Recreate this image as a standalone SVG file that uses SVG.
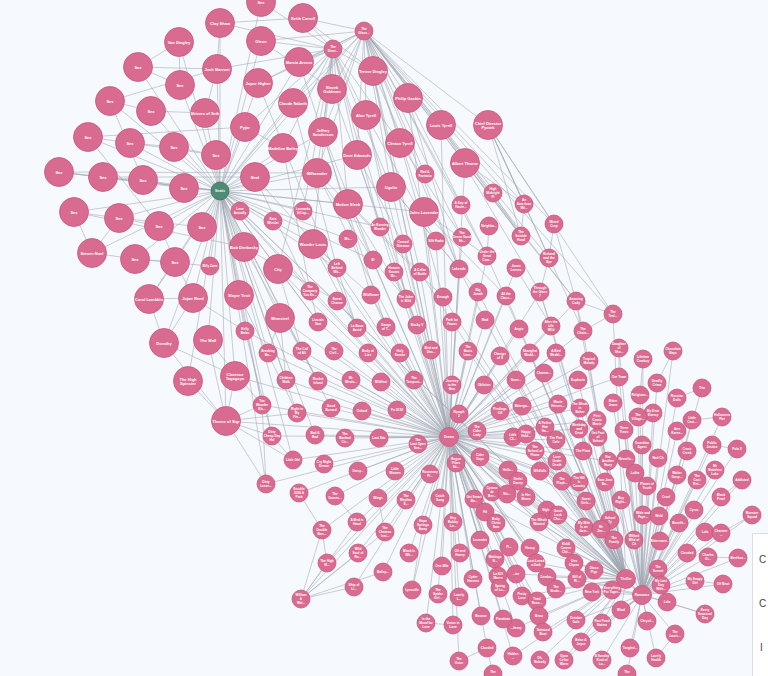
<svg xmlns="http://www.w3.org/2000/svg" width="768" height="676" viewBox="0 0 768 676">
<style>
.L circle,.S circle{fill:#d96b90;stroke:#c7577e;stroke-width:0.8}
.G circle{fill:#4e8b74;stroke:#3e735f;stroke-width:0.8}
text{font-family:"Liberation Sans",Arial,sans-serif;font-weight:bold;fill:#fff;text-anchor:middle;dominant-baseline:central}
.L text{font-size:4px}
.S text,.G text{font-size:3.2px}
#edges path{stroke:#9fa6b0;stroke-width:0.55;fill:none}
.panel text{fill:#444;font-size:10px;font-weight:normal;text-anchor:start}
</style>
<rect width="768" height="676" fill="#f6fafe"/>
<g id="edges">
<path d="M220 191L220 23"/><path d="M220 191L261 2"/><path d="M220 191L179 42"/><path d="M220 191L261 41"/><path d="M220 191L138 67"/><path d="M220 191L217 69"/><path d="M220 191L299 62"/><path d="M220 191L180 85"/><path d="M220 191L258 83"/><path d="M220 191L110 101"/><path d="M220 191L151 111"/><path d="M220 191L205 113"/><path d="M220 191L293 103"/><path d="M220 191L245 127"/><path d="M220 191L323 132"/><path d="M220 191L88 137"/><path d="M220 191L130 143"/><path d="M220 191L174 147"/><path d="M220 191L283 148"/><path d="M220 191L216 155"/><path d="M220 191L59 172"/><path d="M220 191L103 177"/><path d="M220 191L143 180"/><path d="M220 191L184 188"/><path d="M220 191L255 177"/><path d="M220 191L317 173"/><path d="M220 191L348 204"/><path d="M220 191L74 212"/><path d="M220 191L119 218"/><path d="M220 191L159 226"/><path d="M220 191L202 227"/><path d="M220 191L244 247"/><path d="M220 191L313 244"/><path d="M220 191L92 253"/><path d="M220 191L135 259"/><path d="M220 191L175 262"/><path d="M220 191L278 269"/><path d="M220 191L149 299"/><path d="M220 191L193 298"/><path d="M220 191L239 295"/><path d="M220 191L280 318"/><path d="M220 191L164 343"/><path d="M220 191L208 340"/><path d="M220 191L188 381"/><path d="M220 191L235 376"/><path d="M220 191L226 421"/><path d="M220 191L240 211"/><path d="M220 191L273 221"/><path d="M220 191L303 211"/><path d="M220 191L210 266"/><path d="M220 191L245 331"/><path d="M220 191L337 268"/><path d="M220 191L310 291"/><path d="M220 191L262 405"/><path d="M220 191L268 353"/><path d="M220 191L297 413"/><path d="M220 191L272 436"/><path d="M220 191L293 460"/><path d="M220 191L266 484"/><path d="M220 191L286 380"/><path d="M220 191L318 381"/><path d="M220 191L364 31"/><path d="M220 191L333 49"/><path d="M220 191L449 437"/><path d="M220 191L626 579"/><path d="M220 191L642 595"/><path d="M220 191L380 227"/><path d="M220 191L348 239"/><path d="M220 191L373 260"/><path d="M220 191L315 435"/><path d="M220 191L318 322"/><path d="M220 191L331 408"/><path d="M220 191L357 155"/><path d="M220 191L391 187"/><path d="M220 191L424 212"/>
<path d="M138 67L180 85"/><path d="M138 67L179 42"/><path d="M110 101L151 111"/><path d="M88 137L130 143"/><path d="M130 143L174 147"/><path d="M59 172L103 177"/><path d="M103 177L143 180"/><path d="M143 180L184 188"/><path d="M74 212L119 218"/><path d="M119 218L159 226"/><path d="M92 253L135 259"/><path d="M92 253L74 212"/><path d="M92 253L119 218"/><path d="M135 259L175 262"/><path d="M179 42L180 85"/><path d="M59 172L184 188"/><path d="M110 101L143 180"/><path d="M88 137L159 226"/><path d="M149 299L193 298"/><path d="M149 299L175 262"/><path d="M193 298L159 226"/><path d="M164 343L193 298"/><path d="M164 343L235 376"/><path d="M188 381L226 421"/><path d="M235 376L226 421"/><path d="M208 340L226 421"/><path d="M226 421L262 405"/><path d="M226 421L297 413"/><path d="M226 421L272 436"/><path d="M226 421L266 484"/><path d="M226 421L293 460"/><path d="M226 421L449 437"/><path d="M235 376L449 437"/><path d="M217 69L220 23"/><path d="M217 69L205 113"/><path d="M151 111L205 113"/><path d="M174 147L216 155"/><path d="M245 127L283 148"/><path d="M220 23L303 18"/>
<path d="M255 177L337 268"/><path d="M255 177L310 291"/><path d="M317 173L373 260"/><path d="M317 173L420 272"/><path d="M348 204L406 299"/><path d="M348 204L443 297"/><path d="M391 187L459 269"/><path d="M391 187L478 292"/><path d="M424 212L487 256"/><path d="M424 212L506 296"/><path d="M313 244L371 295"/><path d="M313 244L357 328"/><path d="M278 269L318 322"/><path d="M278 269L302 351"/><path d="M280 318L268 353"/><path d="M280 318L286 380"/><path d="M244 247L337 301"/><path d="M244 247L318 381"/><path d="M239 295L262 405"/><path d="M239 295L297 413"/><path d="M208 340L262 405"/><path d="M245 331L272 436"/><path d="M164 343L226 421"/><path d="M193 298L245 331"/><path d="M149 299L164 343"/><path d="M59 172L317 173"/><path d="M74 212L244 247"/><path d="M103 177L255 177"/><path d="M88 137L245 127"/><path d="M110 101L217 69"/><path d="M138 67L217 69"/><path d="M130 143L216 155"/><path d="M119 218L202 227"/><path d="M135 259L210 266"/><path d="M303 18L373 71"/><path d="M261 41L332 89"/><path d="M373 260L406 299"/><path d="M394 272L417 325"/><path d="M420 272L452 322"/><path d="M459 269L485 320"/><path d="M487 256L519 329"/><path d="M516 268L551 326"/><path d="M337 268L357 328"/><path d="M310 291L318 322"/><path d="M371 295L386 327"/><path d="M262 405L266 484"/><path d="M272 436L293 460"/><path d="M299 493L322 530"/><path d="M335 496L357 522"/><path d="M378 498L385 532"/><path d="M449 437L391 187"/><path d="M449 437L348 204"/><path d="M449 437L424 212"/><path d="M449 437L465 163"/><path d="M449 437L441 125"/><path d="M449 437L373 71"/><path d="M449 437L408 98"/><path d="M449 437L317 173"/><path d="M449 437L366 115"/>
<path d="M364 31L303 18"/><path d="M364 31L261 41"/><path d="M364 31L299 62"/><path d="M364 31L373 71"/><path d="M364 31L332 89"/><path d="M364 31L408 98"/><path d="M364 31L366 115"/><path d="M364 31L441 125"/><path d="M364 31L488 125"/><path d="M364 31L400 143"/><path d="M364 31L357 155"/><path d="M364 31L465 163"/><path d="M364 31L317 173"/><path d="M364 31L391 187"/><path d="M364 31L424 212"/><path d="M364 31L333 49"/><path d="M364 31L258 83"/><path d="M364 31L293 103"/><path d="M364 31L323 132"/><path d="M364 31L524 204"/><path d="M364 31L554 224"/><path d="M364 31L549 258"/><path d="M364 31L521 236"/><path d="M364 31L576 301"/><path d="M364 31L613 314"/><path d="M364 31L459 269"/><path d="M364 31L487 256"/><path d="M364 31L462 237"/><path d="M364 31L449 437"/><path d="M364 31L493 193"/><path d="M364 31L425 174"/><path d="M364 31L461 205"/>
<path d="M333 49L261 41"/><path d="M333 49L299 62"/><path d="M333 49L258 83"/><path d="M333 49L293 103"/><path d="M333 49L332 89"/><path d="M333 49L323 132"/><path d="M333 49L283 148"/><path d="M333 49L245 127"/><path d="M333 49L217 69"/><path d="M333 49L220 23"/><path d="M333 49L261 2"/><path d="M333 49L303 18"/><path d="M333 49L366 115"/><path d="M333 49L357 155"/><path d="M333 49L317 173"/><path d="M333 49L348 204"/><path d="M333 49L313 244"/><path d="M333 49L278 269"/><path d="M333 49L449 437"/><path d="M333 49L391 187"/><path d="M333 49L400 143"/><path d="M333 49L373 71"/><path d="M333 49L303 211"/><path d="M333 49L380 227"/>
<path d="M488 125L524 204"/><path d="M488 125L554 224"/><path d="M488 125L549 258"/><path d="M488 125L613 314"/><path d="M488 125L583 331"/><path d="M488 125L521 236"/><path d="M465 163L521 236"/><path d="M465 163L524 204"/><path d="M465 163L576 301"/><path d="M441 125L521 236"/><path d="M441 125L540 292"/><path d="M408 98L487 256"/><path d="M408 98L459 269"/><path d="M373 71L459 269"/><path d="M373 71L420 272"/><path d="M400 143L462 237"/><path d="M400 143L443 297"/><path d="M366 115L436 241"/><path d="M366 115L406 299"/><path d="M357 155L403 244"/><path d="M357 155L394 272"/><path d="M323 132L373 260"/><path d="M323 132L371 295"/><path d="M293 103L337 268"/><path d="M283 148L310 291"/><path d="M332 89L417 325"/><path d="M299 62L386 327"/><path d="M258 83L357 328"/><path d="M554 224L576 301"/><path d="M554 224L549 258"/><path d="M576 301L583 331"/><path d="M576 301L613 314"/><path d="M613 314L583 331"/><path d="M540 292L551 326"/><path d="M549 258L540 292"/><path d="M524 204L521 236"/><path d="M493 193L521 236"/><path d="M489 226L487 256"/>
<path d="M449 437L373 260"/><path d="M449 437L337 268"/><path d="M449 437L394 272"/><path d="M449 437L420 272"/><path d="M449 437L459 269"/><path d="M449 437L310 291"/><path d="M449 437L371 295"/><path d="M449 437L406 299"/><path d="M449 437L443 297"/><path d="M449 437L478 292"/><path d="M449 437L506 296"/><path d="M449 437L337 301"/><path d="M449 437L318 322"/><path d="M449 437L357 328"/><path d="M449 437L386 327"/><path d="M449 437L417 325"/><path d="M449 437L452 322"/><path d="M449 437L485 320"/><path d="M449 437L516 268"/><path d="M449 437L540 292"/><path d="M449 437L576 301"/><path d="M449 437L551 326"/><path d="M449 437L583 331"/><path d="M449 437L519 329"/><path d="M449 437L262 405"/><path d="M449 437L268 353"/><path d="M449 437L302 351"/><path d="M449 437L334 351"/><path d="M449 437L368 353"/><path d="M449 437L400 353"/><path d="M449 437L431 350"/><path d="M449 437L468 351"/><path d="M449 437L500 356"/><path d="M449 437L530 353"/><path d="M449 437L556 353"/><path d="M449 437L589 361"/><path d="M449 437L286 380"/><path d="M449 437L318 381"/><path d="M449 437L351 380"/><path d="M449 437L381 382"/><path d="M449 437L414 380"/><path d="M449 437L452 385"/><path d="M449 437L484 385"/><path d="M449 437L516 380"/><path d="M449 437L544 373"/><path d="M449 437L578 380"/><path d="M449 437L619 377"/><path d="M449 437L297 413"/><path d="M449 437L331 408"/><path d="M449 437L362 411"/><path d="M449 437L397 410"/><path d="M449 437L459 414"/><path d="M449 437L500 411"/><path d="M449 437L522 406"/><path d="M449 437L558 404"/><path d="M449 437L580 408"/><path d="M449 437L597 420"/><path d="M449 437L272 436"/><path d="M449 437L315 435"/><path d="M449 437L345 438"/><path d="M449 437L379 438"/><path d="M449 437L418 444"/><path d="M449 437L477 431"/><path d="M449 437L545 427"/><path d="M449 437L526 434"/><path d="M449 437L579 429"/><path d="M449 437L513 437"/><path d="M449 437L556 440"/><path d="M449 437L535 451"/><path d="M449 437L583 451"/><path d="M449 437L480 457"/><path d="M449 437L456 463"/><path d="M449 437L557 461"/><path d="M449 437L608 461"/><path d="M449 437L293 460"/><path d="M449 437L324 464"/><path d="M449 437L358 471"/><path d="M449 437L395 471"/><path d="M449 437L430 474"/><path d="M449 437L508 470"/><path d="M449 437L540 471"/><path d="M449 437L266 484"/><path d="M449 437L518 481"/><path d="M449 437L562 481"/><path d="M449 437L579 482"/><path d="M449 437L299 493"/><path d="M449 437L335 496"/><path d="M449 437L378 498"/><path d="M449 437L406 500"/><path d="M449 437L440 498"/><path d="M449 437L474 499"/><path d="M449 437L492 492"/><path d="M449 437L507 494"/><path d="M449 437L526 497"/><path d="M449 437L586 501"/><path d="M449 437L547 510"/><path d="M449 437L558 515"/><path d="M449 437L539 522"/><path d="M449 437L584 527"/><path d="M449 437L509 547"/><path d="M449 437L530 548"/><path d="M449 437L566 548"/><path d="M449 437L536 563"/><path d="M449 437L516 574"/><path d="M449 437L547 577"/><path d="M449 437L556 589"/><path d="M449 437L522 596"/><path d="M449 437L537 601"/><path d="M449 437L539 616"/><path d="M449 437L516 628"/><path d="M449 437L543 632"/><path d="M449 437L513 656"/><path d="M449 437L322 530"/><path d="M449 437L357 522"/><path d="M449 437L385 532"/><path d="M449 437L423 525"/><path d="M449 437L453 522"/><path d="M449 437L485 512"/><path d="M449 437L496 523"/><path d="M449 437L327 563"/><path d="M449 437L358 553"/><path d="M449 437L383 572"/><path d="M449 437L409 553"/><path d="M449 437L442 566"/><path d="M449 437L460 553"/><path d="M449 437L480 540"/><path d="M449 437L495 559"/><path d="M449 437L473 579"/><path d="M449 437L498 576"/><path d="M449 437L500 588"/><path d="M449 437L354 587"/><path d="M449 437L412 590"/><path d="M449 437L438 594"/><path d="M449 437L459 597"/><path d="M449 437L301 599"/><path d="M449 437L481 616"/><path d="M449 437L503 619"/><path d="M449 437L426 623"/><path d="M449 437L453 625"/><path d="M449 437L487 648"/><path d="M449 437L459 661"/><path d="M449 437L626 579"/><path d="M449 437L642 595"/><path d="M449 437L280 318"/><path d="M449 437L278 269"/><path d="M449 437L313 244"/><path d="M449 437L245 331"/><path d="M449 437L436 241"/><path d="M449 437L403 244"/><path d="M449 437L462 237"/><path d="M449 437L487 256"/>
<path d="M626 579L547 510"/><path d="M626 579L558 515"/><path d="M626 579L539 522"/><path d="M626 579L584 527"/><path d="M626 579L601 529"/><path d="M626 579L610 520"/><path d="M626 579L530 548"/><path d="M626 579L566 548"/><path d="M626 579L536 563"/><path d="M626 579L574 563"/><path d="M626 579L594 570"/><path d="M626 579L516 574"/><path d="M626 579L547 577"/><path d="M626 579L577 579"/><path d="M626 579L556 589"/><path d="M626 579L522 596"/><path d="M626 579L537 601"/><path d="M626 579L539 616"/><path d="M626 579L516 628"/><path d="M626 579L543 632"/><path d="M626 579L513 656"/><path d="M626 579L540 660"/><path d="M626 579L564 660"/><path d="M626 579L581 642"/><path d="M626 579L576 620"/><path d="M626 579L602 623"/><path d="M626 579L621 610"/><path d="M626 579L551 326"/><path d="M626 579L583 331"/><path d="M626 579L519 329"/><path d="M626 579L540 292"/><path d="M626 579L576 301"/><path d="M626 579L613 314"/><path d="M626 579L530 353"/><path d="M626 579L556 353"/><path d="M626 579L589 361"/><path d="M626 579L544 373"/><path d="M626 579L578 380"/><path d="M626 579L558 404"/><path d="M626 579L580 408"/><path d="M626 579L545 427"/><path d="M626 579L526 434"/><path d="M626 579L579 429"/><path d="M626 579L556 440"/><path d="M626 579L535 451"/><path d="M626 579L583 451"/><path d="M626 579L557 461"/><path d="M626 579L608 461"/><path d="M626 579L540 471"/><path d="M626 579L518 481"/><path d="M626 579L562 481"/><path d="M626 579L579 482"/><path d="M626 579L605 482"/><path d="M626 579L526 497"/><path d="M626 579L586 501"/><path d="M626 579L452 322"/><path d="M626 579L485 320"/><path d="M626 579L506 296"/><path d="M626 579L478 292"/><path d="M626 579L443 297"/><path d="M626 579L500 356"/><path d="M626 579L468 351"/><path d="M626 579L484 385"/><path d="M626 579L516 380"/><path d="M626 579L500 411"/><path d="M626 579L522 406"/><path d="M626 579L480 457"/><path d="M626 579L474 499"/><path d="M626 579L492 492"/><path d="M626 579L507 494"/><path d="M626 579L642 595"/>
<path d="M642 595L635 473"/><path d="M642 595L677 475"/><path d="M642 595L715 470"/><path d="M642 595L697 480"/><path d="M642 595L742 480"/><path d="M642 595L647 486"/><path d="M642 595L621 500"/><path d="M642 595L666 497"/><path d="M642 595L721 497"/><path d="M642 595L643 515"/><path d="M642 595L659 516"/><path d="M642 595L679 523"/><path d="M642 595L694 510"/><path d="M642 595L752 515"/><path d="M642 595L705 532"/><path d="M642 595L721 533"/><path d="M642 595L614 540"/><path d="M642 595L634 540"/><path d="M642 595L660 541"/><path d="M642 595L687 553"/><path d="M642 595L708 557"/><path d="M642 595L738 558"/><path d="M642 595L577 579"/><path d="M642 595L658 569"/><path d="M642 595L661 585"/><path d="M642 595L695 581"/><path d="M642 595L723 584"/><path d="M642 595L592 592"/><path d="M642 595L612 590"/><path d="M642 595L667 602"/><path d="M642 595L621 610"/><path d="M642 595L705 614"/><path d="M642 595L576 620"/><path d="M642 595L602 623"/><path d="M642 595L647 621"/><path d="M642 595L675 634"/><path d="M642 595L581 642"/><path d="M642 595L630 648"/><path d="M642 595L602 660"/><path d="M642 595L656 658"/><path d="M642 595L564 660"/><path d="M642 595L627 674"/><path d="M642 595L638 417"/><path d="M642 595L653 413"/><path d="M642 595L692 420"/><path d="M642 595L722 417"/><path d="M642 595L712 445"/><path d="M642 595L737 449"/><path d="M642 595L687 451"/><path d="M642 595L658 458"/><path d="M642 595L626 459"/><path d="M642 595L642 445"/><path d="M642 595L624 430"/><path d="M642 595L677 431"/><path d="M642 595L613 403"/><path d="M642 595L598 437"/><path d="M642 595L640 395"/><path d="M642 595L657 383"/><path d="M642 595L702 388"/><path d="M642 595L677 398"/><path d="M642 595L643 359"/><path d="M642 595L673 351"/><path d="M642 595L619 348"/><path d="M642 595L619 377"/><path d="M642 595L597 420"/>
<path d="M702 388L677 398"/><path d="M722 417L692 420"/><path d="M737 449L712 445"/><path d="M742 480L721 497"/><path d="M752 515L721 533"/><path d="M738 558L708 557"/><path d="M723 584L695 581"/><path d="M705 614L667 602"/><path d="M675 634L656 658"/><path d="M673 351L657 383"/><path d="M643 359L640 395"/><path d="M619 348L619 377"/><path d="M677 431L687 451"/><path d="M715 470L697 480"/><path d="M653 413L638 417"/><path d="M301 599L327 563"/><path d="M301 599L322 530"/><path d="M301 599L357 522"/><path d="M301 599L358 553"/><path d="M301 599L354 587"/><path d="M301 599L385 532"/><path d="M301 599L383 572"/><path d="M327 563L322 530"/><path d="M423 525L412 590"/><path d="M487 648L459 661"/><path d="M426 623L453 625"/><path d="M493 674L487 648"/>
</g>
<g id="nodes">
<g id="n-l1" class="L"><circle cx="220" cy="23" r="14.5"/><text x="220" y="23">Clay Shaw</text></g>
<g id="n-l2" class="L"><circle cx="261" cy="2" r="14.5"/><text x="261" y="2">Sex</text></g>
<g id="n-l3" class="L"><circle cx="303" cy="18" r="14.5"/><text x="303" y="18">Keith Carroll</text></g>
<g id="n-l4" class="L"><circle cx="179" cy="42" r="14.5"/><text x="179" y="42">Van Dingley</text></g>
<g id="n-l5" class="L"><circle cx="261" cy="41" r="14.5"/><text x="261" y="41">Glenn</text></g>
<g id="n-l6" class="L"><circle cx="138" cy="67" r="14.5"/><text x="138" y="67">Sex</text></g>
<g id="n-l7" class="L"><circle cx="217" cy="69" r="14.5"/><text x="217" y="69">Josh Marroni</text></g>
<g id="n-l8" class="L"><circle cx="299" cy="62" r="14.5"/><text x="299" y="62">Marcia Arrone</text></g>
<g id="n-l9" class="L"><circle cx="373" cy="71" r="14.5"/><text x="373" y="71">Trevor Dingley</text></g>
<g id="n-l10" class="L"><circle cx="180" cy="85" r="14.5"/><text x="180" y="85">Sex</text></g>
<g id="n-l11" class="L"><circle cx="258" cy="83" r="14.5"/><text x="258" y="83">Jayne Higher</text></g>
<g id="n-l12" class="L"><circle cx="332" cy="89" r="14.5"/><text x="332" y="89"><tspan x="332" dy="-2.2">Slavek</tspan><tspan x="332" dy="4.4">Goldman</tspan></text></g>
<g id="n-l13" class="L"><circle cx="110" cy="101" r="14.5"/><text x="110" y="101">Sex</text></g>
<g id="n-l14" class="L"><circle cx="151" cy="111" r="14.5"/><text x="151" y="111">Sex</text></g>
<g id="n-l15" class="L"><circle cx="205" cy="113" r="14.5"/><text x="205" y="113">Shivers of Seth</text></g>
<g id="n-l16" class="L"><circle cx="293" cy="103" r="14.5"/><text x="293" y="103">Claude Nabeth</text></g>
<g id="n-l17" class="L"><circle cx="366" cy="115" r="14.5"/><text x="366" y="115">Alan Tyrell</text></g>
<g id="n-l18" class="L"><circle cx="408" cy="98" r="14.5"/><text x="408" y="98">Philip Gaskin</text></g>
<g id="n-l19" class="L"><circle cx="245" cy="127" r="14.5"/><text x="245" y="127">Pyjar</text></g>
<g id="n-l20" class="L"><circle cx="323" cy="132" r="14.5"/><text x="323" y="132"><tspan x="323" dy="-2.2">Jeffrey</tspan><tspan x="323" dy="4.4">Sanderson</tspan></text></g>
<g id="n-l21" class="L"><circle cx="441" cy="125" r="14.5"/><text x="441" y="125">Louis Tyrell</text></g>
<g id="n-l22" class="L"><circle cx="488" cy="125" r="14.5"/><text x="488" y="125"><tspan x="488" dy="-2.2">Chief Director</tspan><tspan x="488" dy="4.4">Pyotek</tspan></text></g>
<g id="n-l23" class="L"><circle cx="88" cy="137" r="14.5"/><text x="88" y="137">Sex</text></g>
<g id="n-l24" class="L"><circle cx="130" cy="143" r="14.5"/><text x="130" y="143">Sex</text></g>
<g id="n-l25" class="L"><circle cx="174" cy="147" r="14.5"/><text x="174" y="147">Sex</text></g>
<g id="n-l26" class="L"><circle cx="283" cy="148" r="14.5"/><text x="283" y="148">Madeline Bailey</text></g>
<g id="n-l27" class="L"><circle cx="400" cy="143" r="14.5"/><text x="400" y="143">Clinton Tyrell</text></g>
<g id="n-l28" class="L"><circle cx="216" cy="155" r="14.5"/><text x="216" y="155">Sex</text></g>
<g id="n-l29" class="L"><circle cx="357" cy="155" r="14.5"/><text x="357" y="155">Dave Edwards</text></g>
<g id="n-l30" class="L"><circle cx="465" cy="163" r="14.5"/><text x="465" y="163">Albert Thorne</text></g>
<g id="n-l31" class="L"><circle cx="59" cy="172" r="14.5"/><text x="59" y="172">Sex</text></g>
<g id="n-l32" class="L"><circle cx="103" cy="177" r="14.5"/><text x="103" y="177">Sex</text></g>
<g id="n-l33" class="L"><circle cx="143" cy="180" r="14.5"/><text x="143" y="180">Sex</text></g>
<g id="n-l34" class="L"><circle cx="184" cy="188" r="14.5"/><text x="184" y="188">Sex</text></g>
<g id="n-l35" class="L"><circle cx="255" cy="177" r="14.5"/><text x="255" y="177">Neal</text></g>
<g id="n-l36" class="L"><circle cx="317" cy="173" r="14.5"/><text x="317" y="173">Millwander</text></g>
<g id="n-l37" class="L"><circle cx="391" cy="187" r="14.5"/><text x="391" y="187">Ugolin</text></g>
<g id="n-l38" class="L"><circle cx="348" cy="204" r="14.5"/><text x="348" y="204">Motion Sleek</text></g>
<g id="n-l39" class="L"><circle cx="424" cy="212" r="14.5"/><text x="424" y="212">Jules Lavender</text></g>
<g id="n-l40" class="L"><circle cx="74" cy="212" r="14.5"/><text x="74" y="212">Sex</text></g>
<g id="n-l41" class="L"><circle cx="119" cy="218" r="14.5"/><text x="119" y="218">Sex</text></g>
<g id="n-l42" class="L"><circle cx="159" cy="226" r="14.5"/><text x="159" y="226">Sex</text></g>
<g id="n-l43" class="L"><circle cx="202" cy="227" r="14.5"/><text x="202" y="227">Sex</text></g>
<g id="n-l44" class="L"><circle cx="244" cy="247" r="14.5"/><text x="244" y="247">Bob Dimbasky</text></g>
<g id="n-l45" class="L"><circle cx="313" cy="244" r="14.5"/><text x="313" y="244">Wander Louis</text></g>
<g id="n-l46" class="L"><circle cx="92" cy="253" r="14.5"/><text x="92" y="253">Steven Noel</text></g>
<g id="n-l47" class="L"><circle cx="135" cy="259" r="14.5"/><text x="135" y="259">Sex</text></g>
<g id="n-l48" class="L"><circle cx="175" cy="262" r="14.5"/><text x="175" y="262">Sex</text></g>
<g id="n-l49" class="L"><circle cx="278" cy="269" r="14.5"/><text x="278" y="269">City</text></g>
<g id="n-l50" class="L"><circle cx="149" cy="299" r="14.5"/><text x="149" y="299">Carol Lambkin</text></g>
<g id="n-l51" class="L"><circle cx="193" cy="298" r="14.5"/><text x="193" y="298">Jojan Reed</text></g>
<g id="n-l52" class="L"><circle cx="239" cy="295" r="14.5"/><text x="239" y="295">Slayer Tesit</text></g>
<g id="n-l53" class="L"><circle cx="280" cy="318" r="14.5"/><text x="280" y="318">Minestrel</text></g>
<g id="n-l54" class="L"><circle cx="164" cy="343" r="14.5"/><text x="164" y="343">Dorothy</text></g>
<g id="n-l55" class="L"><circle cx="208" cy="340" r="14.5"/><text x="208" y="340">The Wall</text></g>
<g id="n-l56" class="L"><circle cx="188" cy="381" r="14.5"/><text x="188" y="381"><tspan x="188" dy="-2.2">The High</tspan><tspan x="188" dy="4.4">Spinster</tspan></text></g>
<g id="n-l57" class="L"><circle cx="235" cy="376" r="14.5"/><text x="235" y="376"><tspan x="235" dy="-2.2">Clarence</tspan><tspan x="235" dy="4.4">Tagagoyn</tspan></text></g>
<g id="n-l58" class="L"><circle cx="226" cy="421" r="14.5"/><text x="226" y="421">Thorns of Sigr</text></g>
<g id="n-hub-g" class="G"><circle cx="220" cy="191" r="9"/><text x="220" y="191">Stratis</text></g>
<g id="n-hub-d" class="S"><circle cx="449" cy="437" r="9.5"/><text x="449" y="437">Drama</text></g>
<g id="n-hub-p" class="S"><circle cx="626" cy="579" r="9.5"/><text x="626" y="579">Thriller</text></g>
<g id="n-hub-r" class="S"><circle cx="642" cy="595" r="9.5"/><text x="642" y="595">Romance</text></g>
<g id="n1" class="S"><circle cx="364" cy="31" r="9"/><text x="364" y="31"><tspan x="364" dy="-1.8">The</tspan><tspan x="364" dy="3.6">Glass...</tspan></text></g>
<g id="n2" class="S"><circle cx="333" cy="49" r="9"/><text x="333" y="49"><tspan x="333" dy="-1.8">The</tspan><tspan x="333" dy="3.6">Diver...</tspan></text></g>
<g id="n3" class="S"><circle cx="425" cy="174" r="9"/><text x="425" y="174"><tspan x="425" dy="-1.8">Red &amp;</tspan><tspan x="425" dy="3.6">Fantasia</tspan></text></g>
<g id="n4" class="S"><circle cx="493" cy="193" r="9"/><text x="493" y="193"><tspan x="493" dy="-3.6">High</tspan><tspan x="493" dy="3.6">Midnight</tspan><tspan x="493" dy="3.6">Pi</tspan></text></g>
<g id="n5" class="S"><circle cx="240" cy="211" r="9"/><text x="240" y="211"><tspan x="240" dy="-1.8">Love</tspan><tspan x="240" dy="3.6">Actually</tspan></text></g>
<g id="n6" class="S"><circle cx="273" cy="221" r="9"/><text x="273" y="221"><tspan x="273" dy="-1.8">Kate</tspan><tspan x="273" dy="3.6">Winslet</tspan></text></g>
<g id="n7" class="S"><circle cx="303" cy="211" r="9"/><text x="303" y="211"><tspan x="303" dy="-1.8">Leonardo</tspan><tspan x="303" dy="3.6">DiCap...</tspan></text></g>
<g id="n8" class="S"><circle cx="461" cy="205" r="9"/><text x="461" y="205"><tspan x="461" dy="-1.8">A Day of</tspan><tspan x="461" dy="3.6">Haute...</tspan></text></g>
<g id="n9" class="S"><circle cx="489" cy="226" r="9"/><text x="489" y="226">Neighbo...</text></g>
<g id="n10" class="S"><circle cx="380" cy="227" r="9"/><text x="380" y="227"><tspan x="380" dy="-1.8">An Evening</tspan><tspan x="380" dy="3.6">Wonder</tspan></text></g>
<g id="n11" class="S"><circle cx="348" cy="239" r="9"/><text x="348" y="239">Wo...</text></g>
<g id="n12" class="S"><circle cx="462" cy="237" r="9"/><text x="462" y="237"><tspan x="462" dy="-3.6">The</tspan><tspan x="462" dy="3.6">Green Good</tspan><tspan x="462" dy="3.6">Sh...</tspan></text></g>
<g id="n13" class="S"><circle cx="403" cy="244" r="9"/><text x="403" y="244"><tspan x="403" dy="-1.8">Conrad</tspan><tspan x="403" dy="3.6">Dimmon</tspan></text></g>
<g id="n14" class="S"><circle cx="436" cy="241" r="9"/><text x="436" y="241">Silk Radio</text></g>
<g id="n15" class="S"><circle cx="487" cy="256" r="9"/><text x="487" y="256"><tspan x="487" dy="-3.6">Under the</tspan><tspan x="487" dy="3.6">Great</tspan><tspan x="487" dy="3.6">Com...</tspan></text></g>
<g id="n16" class="S"><circle cx="373" cy="260" r="9"/><text x="373" y="260">El</text></g>
<g id="n17" class="S"><circle cx="337" cy="268" r="9"/><text x="337" y="268"><tspan x="337" dy="-3.6">Left</tspan><tspan x="337" dy="3.6">Behind</tspan><tspan x="337" dy="3.6">Wit...</tspan></text></g>
<g id="n18" class="S"><circle cx="394" cy="272" r="9"/><text x="394" y="272"><tspan x="394" dy="-3.6">Heaven</tspan><tspan x="394" dy="3.6">Knows</tspan><tspan x="394" dy="3.6">Mr...</tspan></text></g>
<g id="n19" class="S"><circle cx="420" cy="272" r="9"/><text x="420" y="272"><tspan x="420" dy="-1.8">A Cellar</tspan><tspan x="420" dy="3.6">of Bottle</tspan></text></g>
<g id="n20" class="S"><circle cx="459" cy="269" r="9"/><text x="459" y="269">Lakeside</text></g>
<g id="n21" class="S"><circle cx="210" cy="266" r="9"/><text x="210" y="266">Billy Zane</text></g>
<g id="n22" class="S"><circle cx="310" cy="291" r="9"/><text x="310" y="291"><tspan x="310" dy="-3.6">The</tspan><tspan x="310" dy="3.6">Company</tspan><tspan x="310" dy="3.6">You Ke...</tspan></text></g>
<g id="n23" class="S"><circle cx="371" cy="295" r="9"/><text x="371" y="295">Wildflower</text></g>
<g id="n24" class="S"><circle cx="406" cy="299" r="9"/><text x="406" y="299"><tspan x="406" dy="-1.8">The Joker</tspan><tspan x="406" dy="3.6">is Wild</tspan></text></g>
<g id="n25" class="S"><circle cx="443" cy="297" r="9"/><text x="443" y="297">Enough</text></g>
<g id="n26" class="S"><circle cx="478" cy="292" r="9"/><text x="478" y="292"><tspan x="478" dy="-1.8">Big</tspan><tspan x="478" dy="3.6">Jonah</tspan></text></g>
<g id="n27" class="S"><circle cx="506" cy="296" r="9"/><text x="506" y="296"><tspan x="506" dy="-1.8">All the</tspan><tspan x="506" dy="3.6">Class...</tspan></text></g>
<g id="n28" class="S"><circle cx="337" cy="301" r="9"/><text x="337" y="301"><tspan x="337" dy="-1.8">Sweet</tspan><tspan x="337" dy="3.6">Chance</tspan></text></g>
<g id="n29" class="S"><circle cx="318" cy="322" r="9"/><text x="318" y="322"><tspan x="318" dy="-1.8">Lincoln</tspan><tspan x="318" dy="3.6">Stat</tspan></text></g>
<g id="n30" class="S"><circle cx="357" cy="328" r="9"/><text x="357" y="328"><tspan x="357" dy="-1.8">La Boca</tspan><tspan x="357" dy="3.6">Avoid</tspan></text></g>
<g id="n31" class="S"><circle cx="386" cy="327" r="9"/><text x="386" y="327"><tspan x="386" dy="-1.8">Gauge</tspan><tspan x="386" dy="3.6">of T...</tspan></text></g>
<g id="n32" class="S"><circle cx="417" cy="325" r="9"/><text x="417" y="325">Rocky V</text></g>
<g id="n33" class="S"><circle cx="452" cy="322" r="9"/><text x="452" y="322"><tspan x="452" dy="-1.8">Park for</tspan><tspan x="452" dy="3.6">Pawns</tspan></text></g>
<g id="n34" class="S"><circle cx="485" cy="320" r="9"/><text x="485" y="320">Mad</text></g>
<g id="n35" class="S"><circle cx="245" cy="331" r="9"/><text x="245" y="331"><tspan x="245" dy="-1.8">Kelly</tspan><tspan x="245" dy="3.6">Bolas</tspan></text></g>
<g id="n36" class="S"><circle cx="524" cy="204" r="9"/><text x="524" y="204"><tspan x="524" dy="-3.6">An</tspan><tspan x="524" dy="3.6">American</tspan><tspan x="524" dy="3.6">Mil...</tspan></text></g>
<g id="n37" class="S"><circle cx="554" cy="224" r="9"/><text x="554" y="224"><tspan x="554" dy="-1.8">Mixed</tspan><tspan x="554" dy="3.6">Crop</tspan></text></g>
<g id="n38" class="S"><circle cx="521" cy="236" r="9"/><text x="521" y="236"><tspan x="521" dy="-3.6">The</tspan><tspan x="521" dy="3.6">Suicide</tspan><tspan x="521" dy="3.6">Hood</tspan></text></g>
<g id="n39" class="S"><circle cx="549" cy="258" r="9"/><text x="549" y="258"><tspan x="549" dy="-3.6">Richard</tspan><tspan x="549" dy="3.6">and the</tspan><tspan x="549" dy="3.6">Eye</tspan></text></g>
<g id="n40" class="S"><circle cx="516" cy="268" r="9"/><text x="516" y="268"><tspan x="516" dy="-1.8">Jason</tspan><tspan x="516" dy="3.6">Lenses</tspan></text></g>
<g id="n41" class="S"><circle cx="540" cy="292" r="9"/><text x="540" y="292"><tspan x="540" dy="-3.6">Through</tspan><tspan x="540" dy="3.6">the Glass</tspan><tspan x="540" dy="3.6">7</tspan></text></g>
<g id="n42" class="S"><circle cx="576" cy="301" r="9"/><text x="576" y="301"><tspan x="576" dy="-1.8">Amazing</tspan><tspan x="576" dy="3.6">Cody</tspan></text></g>
<g id="n43" class="S"><circle cx="613" cy="314" r="9"/><text x="613" y="314"><tspan x="613" dy="-1.8">The</tspan><tspan x="613" dy="3.6">Teal...</tspan></text></g>
<g id="n44" class="S"><circle cx="551" cy="326" r="9"/><text x="551" y="326"><tspan x="551" dy="-3.6">After the</tspan><tspan x="551" dy="3.6">Life</tspan><tspan x="551" dy="3.6">Wild</tspan></text></g>
<g id="n45" class="S"><circle cx="583" cy="331" r="9"/><text x="583" y="331"><tspan x="583" dy="-1.8">The</tspan><tspan x="583" dy="3.6">Chain...</tspan></text></g>
<g id="n46" class="S"><circle cx="519" cy="329" r="9"/><text x="519" y="329">Angie</text></g>
<g id="n47" class="S"><circle cx="262" cy="405" r="9"/><text x="262" y="405"><tspan x="262" dy="-3.6">Too</tspan><tspan x="262" dy="3.6">Wonder</tspan><tspan x="262" dy="3.6">Els...</tspan></text></g>
<g id="n48" class="S"><circle cx="268" cy="353" r="9"/><text x="268" y="353"><tspan x="268" dy="-1.8">Breaking</tspan><tspan x="268" dy="3.6">Ba...</tspan></text></g>
<g id="n49" class="S"><circle cx="302" cy="351" r="9"/><text x="302" y="351"><tspan x="302" dy="-1.8">The Call</tspan><tspan x="302" dy="3.6">of Ali</tspan></text></g>
<g id="n50" class="S"><circle cx="334" cy="351" r="9"/><text x="334" y="351"><tspan x="334" dy="-1.8">The</tspan><tspan x="334" dy="3.6">Civil...</tspan></text></g>
<g id="n51" class="S"><circle cx="368" cy="353" r="9"/><text x="368" y="353"><tspan x="368" dy="-1.8">Body of</tspan><tspan x="368" dy="3.6">Lies</tspan></text></g>
<g id="n52" class="S"><circle cx="400" cy="353" r="9"/><text x="400" y="353"><tspan x="400" dy="-1.8">Holy</tspan><tspan x="400" dy="3.6">Smoke</tspan></text></g>
<g id="n53" class="S"><circle cx="431" cy="350" r="9"/><text x="431" y="350"><tspan x="431" dy="-1.8">Bird and</tspan><tspan x="431" dy="3.6">Dim...</tspan></text></g>
<g id="n54" class="S"><circle cx="468" cy="351" r="9"/><text x="468" y="351"><tspan x="468" dy="-3.6">The</tspan><tspan x="468" dy="3.6">Basic</tspan><tspan x="468" dy="3.6">Lear...</tspan></text></g>
<g id="n55" class="S"><circle cx="500" cy="356" r="9"/><text x="500" y="356"><tspan x="500" dy="-1.8">Charger</tspan><tspan x="500" dy="3.6">of X</tspan></text></g>
<g id="n56" class="S"><circle cx="530" cy="353" r="9"/><text x="530" y="353"><tspan x="530" dy="-1.8">Shanghai</tspan><tspan x="530" dy="3.6">Wedd...</tspan></text></g>
<g id="n57" class="S"><circle cx="556" cy="353" r="9"/><text x="556" y="353"><tspan x="556" dy="-1.8">A Bird</tspan><tspan x="556" dy="3.6">Weddi...</tspan></text></g>
<g id="n58" class="S"><circle cx="589" cy="361" r="9"/><text x="589" y="361"><tspan x="589" dy="-1.8">Tropical</tspan><tspan x="589" dy="3.6">Malady</tspan></text></g>
<g id="n59" class="S"><circle cx="619" cy="348" r="9"/><text x="619" y="348"><tspan x="619" dy="-3.6">Daughter</tspan><tspan x="619" dy="3.6">of</tspan><tspan x="619" dy="3.6">Sho...</tspan></text></g>
<g id="n60" class="S"><circle cx="643" cy="359" r="9"/><text x="643" y="359"><tspan x="643" dy="-1.8">Lifetime</tspan><tspan x="643" dy="3.6">Cowboy</tspan></text></g>
<g id="n61" class="S"><circle cx="673" cy="351" r="9"/><text x="673" y="351"><tspan x="673" dy="-1.8">Chocolate</tspan><tspan x="673" dy="3.6">Bays</tspan></text></g>
<g id="n62" class="S"><circle cx="286" cy="380" r="9"/><text x="286" y="380"><tspan x="286" dy="-1.8">Children</tspan><tspan x="286" dy="3.6">Walk</tspan></text></g>
<g id="n63" class="S"><circle cx="318" cy="381" r="9"/><text x="318" y="381"><tspan x="318" dy="-1.8">Rocket</tspan><tspan x="318" dy="3.6">Island</tspan></text></g>
<g id="n64" class="S"><circle cx="351" cy="380" r="9"/><text x="351" y="380"><tspan x="351" dy="-1.8">Mr.</tspan><tspan x="351" dy="3.6">Mindo...</tspan></text></g>
<g id="n65" class="S"><circle cx="381" cy="382" r="9"/><text x="381" y="382">Wildfeat</text></g>
<g id="n66" class="S"><circle cx="414" cy="380" r="9"/><text x="414" y="380"><tspan x="414" dy="-1.8">The</tspan><tspan x="414" dy="3.6">Tempest...</tspan></text></g>
<g id="n67" class="S"><circle cx="452" cy="385" r="9"/><text x="452" y="385"><tspan x="452" dy="-3.6">Journey</tspan><tspan x="452" dy="3.6">to the</tspan><tspan x="452" dy="3.6">Bon</tspan></text></g>
<g id="n68" class="S"><circle cx="484" cy="385" r="9"/><text x="484" y="385">Oblivion</text></g>
<g id="n69" class="S"><circle cx="516" cy="380" r="9"/><text x="516" y="380">Sumr...</text></g>
<g id="n70" class="S"><circle cx="544" cy="373" r="9"/><text x="544" y="373">Charme...</text></g>
<g id="n71" class="S"><circle cx="578" cy="380" r="9"/><text x="578" y="380">Euphoria</text></g>
<g id="n72" class="S"><circle cx="619" cy="377" r="9"/><text x="619" y="377">Our Town</text></g>
<g id="n73" class="S"><circle cx="657" cy="383" r="9"/><text x="657" y="383"><tspan x="657" dy="-1.8">Deadly</tspan><tspan x="657" dy="3.6">Crime</tspan></text></g>
<g id="n74" class="S"><circle cx="702" cy="388" r="9"/><text x="702" y="388">Trio</text></g>
<g id="n75" class="S"><circle cx="640" cy="395" r="9"/><text x="640" y="395">Religions...</text></g>
<g id="n76" class="S"><circle cx="677" cy="398" r="9"/><text x="677" y="398"><tspan x="677" dy="-1.8">Russian</tspan><tspan x="677" dy="3.6">Dolls</tspan></text></g>
<g id="n77" class="S"><circle cx="297" cy="413" r="9"/><text x="297" y="413"><tspan x="297" dy="-3.6">Right in</tspan><tspan x="297" dy="3.6">My</tspan><tspan x="297" dy="3.6">Fin...</tspan></text></g>
<g id="n78" class="S"><circle cx="331" cy="408" r="9"/><text x="331" y="408"><tspan x="331" dy="-1.8">Good</tspan><tspan x="331" dy="3.6">Burned</tspan></text></g>
<g id="n79" class="S"><circle cx="362" cy="411" r="9"/><text x="362" y="411">Oxford</text></g>
<g id="n80" class="S"><circle cx="397" cy="410" r="9"/><text x="397" y="410">Fu 2018</text></g>
<g id="n81" class="S"><circle cx="459" cy="414" r="9"/><text x="459" y="414"><tspan x="459" dy="-1.8">Nymph</tspan><tspan x="459" dy="3.6">2</tspan></text></g>
<g id="n82" class="S"><circle cx="500" cy="411" r="9"/><text x="500" y="411"><tspan x="500" dy="-1.8">Findings</tspan><tspan x="500" dy="3.6">Off</tspan></text></g>
<g id="n83" class="S"><circle cx="522" cy="406" r="9"/><text x="522" y="406">Bitterga...</text></g>
<g id="n84" class="S"><circle cx="558" cy="404" r="9"/><text x="558" y="404"><tspan x="558" dy="-1.8">Movie</tspan><tspan x="558" dy="3.6">Heroes...</tspan></text></g>
<g id="n85" class="S"><circle cx="580" cy="408" r="9"/><text x="580" y="408"><tspan x="580" dy="-3.6">The Minds</tspan><tspan x="580" dy="3.6">in</tspan><tspan x="580" dy="3.6">Baker</tspan></text></g>
<g id="n86" class="S"><circle cx="613" cy="403" r="9"/><text x="613" y="403"><tspan x="613" dy="-1.8">Bitter</tspan><tspan x="613" dy="3.6">Jeans</tspan></text></g>
<g id="n87" class="S"><circle cx="653" cy="413" r="9"/><text x="653" y="413"><tspan x="653" dy="-1.8">My Dear</tspan><tspan x="653" dy="3.6">Enemy</tspan></text></g>
<g id="n88" class="S"><circle cx="638" cy="417" r="9"/><text x="638" y="417"><tspan x="638" dy="-1.8">The</tspan><tspan x="638" dy="3.6">Village...</tspan></text></g>
<g id="n89" class="S"><circle cx="597" cy="420" r="9"/><text x="597" y="420"><tspan x="597" dy="-3.6">First</tspan><tspan x="597" dy="3.6">Comic</tspan><tspan x="597" dy="3.6">Movie</tspan></text></g>
<g id="n90" class="S"><circle cx="692" cy="420" r="9"/><text x="692" y="420"><tspan x="692" dy="-1.8">Little</tspan><tspan x="692" dy="3.6">Cast...</tspan></text></g>
<g id="n91" class="S"><circle cx="722" cy="417" r="9"/><text x="722" y="417"><tspan x="722" dy="-1.8">Halloween</tspan><tspan x="722" dy="3.6">Flet</tspan></text></g>
<g id="n92" class="S"><circle cx="272" cy="436" r="9"/><text x="272" y="436"><tspan x="272" dy="-3.6">Dirty</tspan><tspan x="272" dy="3.6">Cheap Day</tspan><tspan x="272" dy="3.6">Hal</tspan></text></g>
<g id="n93" class="S"><circle cx="315" cy="435" r="9"/><text x="315" y="435"><tspan x="315" dy="-1.8">Bad &amp;</tspan><tspan x="315" dy="3.6">Bad</tspan></text></g>
<g id="n94" class="S"><circle cx="345" cy="438" r="9"/><text x="345" y="438"><tspan x="345" dy="-3.6">The</tspan><tspan x="345" dy="3.6">Banked</tspan><tspan x="345" dy="3.6">Cir...</tspan></text></g>
<g id="n95" class="S"><circle cx="379" cy="438" r="9"/><text x="379" y="438">Last Stic</text></g>
<g id="n96" class="S"><circle cx="418" cy="444" r="9"/><text x="418" y="444"><tspan x="418" dy="-3.6">The</tspan><tspan x="418" dy="3.6">Last Open</tspan><tspan x="418" dy="3.6">Sea...</tspan></text></g>
<g id="n97" class="S"><circle cx="477" cy="431" r="9"/><text x="477" y="431"><tspan x="477" dy="-3.6">The</tspan><tspan x="477" dy="3.6">Cider</tspan><tspan x="477" dy="3.6">Lady</tspan></text></g>
<g id="n104" class="S"><circle cx="513" cy="437" r="9"/><text x="513" y="437"><tspan x="513" dy="-1.8">Little</tspan><tspan x="513" dy="3.6">Cli...</tspan></text></g>
<g id="n99" class="S"><circle cx="526" cy="434" r="9"/><text x="526" y="434"><tspan x="526" dy="-1.8">Happy</tspan><tspan x="526" dy="3.6">Hidd...</tspan></text></g>
<g id="n98" class="S"><circle cx="545" cy="427" r="9"/><text x="545" y="427"><tspan x="545" dy="-3.6">A Father</tspan><tspan x="545" dy="3.6">Hair</tspan><tspan x="545" dy="3.6">Ha...</tspan></text></g>
<g id="n100" class="S"><circle cx="579" cy="429" r="9"/><text x="579" y="429"><tspan x="579" dy="-3.6">Weekday</tspan><tspan x="579" dy="3.6">and</tspan><tspan x="579" dy="3.6">Dead</tspan></text></g>
<g id="n101" class="S"><circle cx="624" cy="430" r="9"/><text x="624" y="430"><tspan x="624" dy="-1.8">Three</tspan><tspan x="624" dy="3.6">Times</tspan></text></g>
<g id="n102" class="S"><circle cx="598" cy="437" r="9"/><text x="598" y="437"><tspan x="598" dy="-3.6">Get Fast</tspan><tspan x="598" dy="3.6">of</tspan><tspan x="598" dy="3.6">School</tspan></text></g>
<g id="n103" class="S"><circle cx="677" cy="431" r="9"/><text x="677" y="431"><tspan x="677" dy="-1.8">Ann</tspan><tspan x="677" dy="3.6">Karen...</tspan></text></g>
<g id="n105" class="S"><circle cx="556" cy="440" r="9"/><text x="556" y="440"><tspan x="556" dy="-1.8">The Pick</tspan><tspan x="556" dy="3.6">Cafe</tspan></text></g>
<g id="n106" class="S"><circle cx="712" cy="445" r="9"/><text x="712" y="445"><tspan x="712" dy="-1.8">Public</tspan><tspan x="712" dy="3.6">Justice</tspan></text></g>
<g id="n107" class="S"><circle cx="737" cy="449" r="9"/><text x="737" y="449">Pola X</text></g>
<g id="n108" class="S"><circle cx="642" cy="445" r="9"/><text x="642" y="445"><tspan x="642" dy="-1.8">Guardian</tspan><tspan x="642" dy="3.6">Agent</tspan></text></g>
<g id="n109" class="S"><circle cx="535" cy="451" r="9"/><text x="535" y="451"><tspan x="535" dy="-3.6">The</tspan><tspan x="535" dy="3.6">School of</tspan><tspan x="535" dy="3.6">Flame</tspan></text></g>
<g id="n110" class="S"><circle cx="583" cy="451" r="9"/><text x="583" y="451">The Plant</text></g>
<g id="n111" class="S"><circle cx="687" cy="451" r="9"/><text x="687" y="451"><tspan x="687" dy="-1.8">Cross</tspan><tspan x="687" dy="3.6">Creek</tspan></text></g>
<g id="n112" class="S"><circle cx="480" cy="457" r="9"/><text x="480" y="457"><tspan x="480" dy="-1.8">Cider</tspan><tspan x="480" dy="3.6">Days</tspan></text></g>
<g id="n113" class="S"><circle cx="456" cy="463" r="9"/><text x="456" y="463"><tspan x="456" dy="-3.6">Rogue</tspan><tspan x="456" dy="3.6">Films</tspan><tspan x="456" dy="3.6">Sti...</tspan></text></g>
<g id="n114" class="S"><circle cx="557" cy="461" r="9"/><text x="557" y="461"><tspan x="557" dy="-3.6">Love</tspan><tspan x="557" dy="3.6">Under</tspan><tspan x="557" dy="3.6">Death</tspan></text></g>
<g id="n115" class="S"><circle cx="608" cy="461" r="9"/><text x="608" y="461"><tspan x="608" dy="-3.6">Not</tspan><tspan x="608" dy="3.6">Another</tspan><tspan x="608" dy="3.6">Story</tspan></text></g>
<g id="n116" class="S"><circle cx="626" cy="459" r="9"/><text x="626" y="459">Nevarfo...</text></g>
<g id="n117" class="S"><circle cx="658" cy="458" r="9"/><text x="658" y="458">Ned Ch</text></g>
<g id="n118" class="S"><circle cx="293" cy="460" r="9"/><text x="293" y="460">Little Girl</text></g>
<g id="n119" class="S"><circle cx="324" cy="464" r="9"/><text x="324" y="464"><tspan x="324" dy="-1.8">Cry Night</tspan><tspan x="324" dy="3.6">Dream</tspan></text></g>
<g id="n120" class="S"><circle cx="358" cy="471" r="9"/><text x="358" y="471">Daisy...</text></g>
<g id="n121" class="S"><circle cx="395" cy="471" r="9"/><text x="395" y="471"><tspan x="395" dy="-1.8">Little</tspan><tspan x="395" dy="3.6">Women</tspan></text></g>
<g id="n122" class="S"><circle cx="430" cy="474" r="9"/><text x="430" y="474"><tspan x="430" dy="-1.8">Rosemary</tspan><tspan x="430" dy="3.6">Pi...</tspan></text></g>
<g id="n123" class="S"><circle cx="508" cy="470" r="9"/><text x="508" y="470">Hello...</text></g>
<g id="n124" class="S"><circle cx="540" cy="471" r="9"/><text x="540" y="471">Wildfalls</text></g>
<g id="n125" class="S"><circle cx="635" cy="473" r="9"/><text x="635" y="473">Lolita</text></g>
<g id="n126" class="S"><circle cx="677" cy="475" r="9"/><text x="677" y="475"><tspan x="677" dy="-1.8">Walter</tspan><tspan x="677" dy="3.6">Gosp...</tspan></text></g>
<g id="n127" class="S"><circle cx="715" cy="470" r="9"/><text x="715" y="470"><tspan x="715" dy="-3.6">Mr</tspan><tspan x="715" dy="3.6">Stainless</tspan><tspan x="715" dy="3.6">Lake</tspan></text></g>
<g id="n128" class="S"><circle cx="697" cy="480" r="9"/><text x="697" y="480"><tspan x="697" dy="-3.6">The</tspan><tspan x="697" dy="3.6">Cast</tspan><tspan x="697" dy="3.6">Ret...</tspan></text></g>
<g id="n129" class="S"><circle cx="742" cy="480" r="9"/><text x="742" y="480">Addicted</text></g>
<g id="n130" class="S"><circle cx="266" cy="484" r="9"/><text x="266" y="484"><tspan x="266" dy="-1.8">Dirty</tspan><tspan x="266" dy="3.6">Leave...</tspan></text></g>
<g id="n131" class="S"><circle cx="518" cy="481" r="9"/><text x="518" y="481"><tspan x="518" dy="-1.8">Sinful</tspan><tspan x="518" dy="3.6">Davey</tspan></text></g>
<g id="n132" class="S"><circle cx="562" cy="481" r="9"/><text x="562" y="481"><tspan x="562" dy="-1.8">The</tspan><tspan x="562" dy="3.6">Playb...</tspan></text></g>
<g id="n133" class="S"><circle cx="579" cy="482" r="9"/><text x="579" y="482"><tspan x="579" dy="-3.6">The Hill</tspan><tspan x="579" dy="3.6">Is</tspan><tspan x="579" dy="3.6">Country</tspan></text></g>
<g id="n134" class="S"><circle cx="605" cy="482" r="9"/><text x="605" y="482"><tspan x="605" dy="-1.8">Sam Jose</tspan><tspan x="605" dy="3.6">Ba...</tspan></text></g>
<g id="n135" class="S"><circle cx="647" cy="486" r="9"/><text x="647" y="486"><tspan x="647" dy="-1.8">Planet of</tspan><tspan x="647" dy="3.6">Youth</tspan></text></g>
<g id="n136" class="S"><circle cx="299" cy="493" r="9"/><text x="299" y="493"><tspan x="299" dy="-3.6">Stuckle</tspan><tspan x="299" dy="3.6">2026 A</tspan><tspan x="299" dy="3.6">Park</tspan></text></g>
<g id="n137" class="S"><circle cx="335" cy="496" r="9"/><text x="335" y="496"><tspan x="335" dy="-1.8">The</tspan><tspan x="335" dy="3.6">Games...</tspan></text></g>
<g id="n138" class="S"><circle cx="378" cy="498" r="9"/><text x="378" y="498">Wings</text></g>
<g id="n139" class="S"><circle cx="406" cy="500" r="9"/><text x="406" y="500"><tspan x="406" dy="-3.6">The</tspan><tspan x="406" dy="3.6">Rhythm</tspan><tspan x="406" dy="3.6">S...</tspan></text></g>
<g id="n140" class="S"><circle cx="440" cy="498" r="9"/><text x="440" y="498"><tspan x="440" dy="-1.8">Catch</tspan><tspan x="440" dy="3.6">Song</tspan></text></g>
<g id="n141" class="S"><circle cx="474" cy="499" r="9"/><text x="474" y="499"><tspan x="474" dy="-1.8">Get Smart</tspan><tspan x="474" dy="3.6">Ba...</tspan></text></g>
<g id="n142" class="S"><circle cx="492" cy="492" r="9"/><text x="492" y="492"><tspan x="492" dy="-3.6">Cyrano</tspan><tspan x="492" dy="3.6">de</tspan><tspan x="492" dy="3.6">Ber...</tspan></text></g>
<g id="n143" class="S"><circle cx="507" cy="494" r="9"/><text x="507" y="494">Nic...</text></g>
<g id="n144" class="S"><circle cx="526" cy="497" r="9"/><text x="526" y="497"><tspan x="526" dy="-1.8">In Her</tspan><tspan x="526" dy="3.6">Shoes</tspan></text></g>
<g id="n145" class="S"><circle cx="586" cy="501" r="9"/><text x="586" y="501"><tspan x="586" dy="-1.8">Sweet</tspan><tspan x="586" dy="3.6">Girls...</tspan></text></g>
<g id="n146" class="S"><circle cx="621" cy="500" r="9"/><text x="621" y="500"><tspan x="621" dy="-1.8">Buy</tspan><tspan x="621" dy="3.6">Right...</tspan></text></g>
<g id="n147" class="S"><circle cx="666" cy="497" r="9"/><text x="666" y="497">Cruel</text></g>
<g id="n148" class="S"><circle cx="721" cy="497" r="9"/><text x="721" y="497"><tspan x="721" dy="-1.8">Black</tspan><tspan x="721" dy="3.6">Pearl</tspan></text></g>
<g id="n149" class="S"><circle cx="547" cy="510" r="9"/><text x="547" y="510">Nigh...</text></g>
<g id="n150" class="S"><circle cx="558" cy="515" r="9"/><text x="558" y="515"><tspan x="558" dy="-3.6">Good</tspan><tspan x="558" dy="3.6">Luck</tspan><tspan x="558" dy="3.6">Chu...</tspan></text></g>
<g id="n151" class="S"><circle cx="539" cy="522" r="9"/><text x="539" y="522"><tspan x="539" dy="-1.8">The Whole</tspan><tspan x="539" dy="3.6">Wanted</tspan></text></g>
<g id="n152" class="S"><circle cx="584" cy="527" r="9"/><text x="584" y="527"><tspan x="584" dy="-3.6">My Wife</tspan><tspan x="584" dy="3.6">Is an</tspan><tspan x="584" dy="3.6">Actr...</tspan></text></g>
<g id="n154" class="S"><circle cx="610" cy="520" r="9"/><text x="610" y="520"><tspan x="610" dy="-1.8">School</tspan><tspan x="610" dy="3.6">Ty</tspan></text></g>
<g id="n153" class="S"><circle cx="601" cy="529" r="9"/><text x="601" y="529"><tspan x="601" dy="-1.8">Mr</tspan><tspan x="601" dy="3.6">Jim...</tspan></text></g>
<g id="n155" class="S"><circle cx="643" cy="515" r="9"/><text x="643" y="515"><tspan x="643" dy="-1.8">Wide and</tspan><tspan x="643" dy="3.6">Paye...</tspan></text></g>
<g id="n156" class="S"><circle cx="659" cy="516" r="9"/><text x="659" y="516">Weld</text></g>
<g id="n157" class="S"><circle cx="679" cy="523" r="9"/><text x="679" y="523">Benefit...</text></g>
<g id="n158" class="S"><circle cx="694" cy="510" r="9"/><text x="694" y="510">Cyrus</text></g>
<g id="n159" class="S"><circle cx="752" cy="515" r="9"/><text x="752" y="515"><tspan x="752" dy="-1.8">Monster</tspan><tspan x="752" dy="3.6">Squad</tspan></text></g>
<g id="n160" class="S"><circle cx="705" cy="532" r="9"/><text x="705" y="532">Lola</text></g>
<g id="n161" class="S"><circle cx="721" cy="533" r="9"/><text x="721" y="533"><tspan x="721" dy="-1.8">Charmer</tspan><tspan x="721" dy="3.6">...</tspan></text></g>
<g id="n162" class="S"><circle cx="509" cy="547" r="9"/><text x="509" y="547">Pi...</text></g>
<g id="n163" class="S"><circle cx="530" cy="548" r="9"/><text x="530" y="548">Hussy</text></g>
<g id="n164" class="S"><circle cx="566" cy="548" r="9"/><text x="566" y="548"><tspan x="566" dy="-3.6">Kiddi</tspan><tspan x="566" dy="3.6">Corner</tspan><tspan x="566" dy="3.6">Cliti...</tspan></text></g>
<g id="n165" class="S"><circle cx="614" cy="540" r="9"/><text x="614" y="540"><tspan x="614" dy="-1.8">The</tspan><tspan x="614" dy="3.6">Family</tspan></text></g>
<g id="n166" class="S"><circle cx="634" cy="540" r="9"/><text x="634" y="540"><tspan x="634" dy="-3.6">Willard</tspan><tspan x="634" dy="3.6">Wild of</tspan><tspan x="634" dy="3.6">Cit</tspan></text></g>
<g id="n167" class="S"><circle cx="660" cy="541" r="9"/><text x="660" y="541">Bitterswee...</text></g>
<g id="n168" class="S"><circle cx="687" cy="553" r="9"/><text x="687" y="553">Clouded</text></g>
<g id="n169" class="S"><circle cx="708" cy="557" r="9"/><text x="708" y="557"><tspan x="708" dy="-1.8">Charles</tspan><tspan x="708" dy="3.6">Gi...</tspan></text></g>
<g id="n170" class="S"><circle cx="738" cy="558" r="9"/><text x="738" y="558">Beethov...</text></g>
<g id="n171" class="S"><circle cx="536" cy="563" r="9"/><text x="536" y="563"><tspan x="536" dy="-1.8">Lost Loved</tspan><tspan x="536" dy="3.6">a Dark</tspan></text></g>
<g id="n172" class="S"><circle cx="574" cy="563" r="9"/><text x="574" y="563"><tspan x="574" dy="-1.8">Uno</tspan><tspan x="574" dy="3.6">Chpnn</tspan></text></g>
<g id="n173" class="S"><circle cx="594" cy="570" r="9"/><text x="594" y="570"><tspan x="594" dy="-1.8">Disco</tspan><tspan x="594" dy="3.6">Pigs</tspan></text></g>
<g id="n174" class="S"><circle cx="516" cy="574" r="9"/><text x="516" y="574">...ter</text></g>
<g id="n175" class="S"><circle cx="547" cy="577" r="9"/><text x="547" y="577">Zombo...</text></g>
<g id="n176" class="S"><circle cx="577" cy="579" r="9"/><text x="577" y="579"><tspan x="577" dy="-1.8">Bill of</tspan><tspan x="577" dy="3.6">Ri...</tspan></text></g>
<g id="n177" class="S"><circle cx="658" cy="569" r="9"/><text x="658" y="569"><tspan x="658" dy="-1.8">The</tspan><tspan x="658" dy="3.6">Sunset</tspan></text></g>
<g id="n178" class="S"><circle cx="661" cy="585" r="9"/><text x="661" y="585"><tspan x="661" dy="-3.6">My Last</tspan><tspan x="661" dy="3.6">Day</tspan><tspan x="661" dy="3.6">With...</tspan></text></g>
<g id="n179" class="S"><circle cx="695" cy="581" r="9"/><text x="695" y="581"><tspan x="695" dy="-1.8">My Soapy</tspan><tspan x="695" dy="3.6">Girl</tspan></text></g>
<g id="n180" class="S"><circle cx="723" cy="584" r="9"/><text x="723" y="584">Off Beat</text></g>
<g id="n181" class="S"><circle cx="556" cy="589" r="9"/><text x="556" y="589"><tspan x="556" dy="-1.8">The</tspan><tspan x="556" dy="3.6">Stude...</tspan></text></g>
<g id="n182" class="S"><circle cx="592" cy="592" r="9"/><text x="592" y="592">New York</text></g>
<g id="n183" class="S"><circle cx="612" cy="590" r="9"/><text x="612" y="590"><tspan x="612" dy="-1.8">Everything</tspan><tspan x="612" dy="3.6">Put Toget...</tspan></text></g>
<g id="n184" class="S"><circle cx="522" cy="596" r="9"/><text x="522" y="596"><tspan x="522" dy="-1.8">Pretty</tspan><tspan x="522" dy="3.6">Love</tspan></text></g>
<g id="n185" class="S"><circle cx="537" cy="601" r="9"/><text x="537" y="601"><tspan x="537" dy="-1.8">Total</tspan><tspan x="537" dy="3.6">Reco...</tspan></text></g>
<g id="n186" class="S"><circle cx="667" cy="602" r="9"/><text x="667" y="602">Lola</text></g>
<g id="n187" class="S"><circle cx="621" cy="610" r="9"/><text x="621" y="610">Wind</text></g>
<g id="n188" class="S"><circle cx="705" cy="614" r="9"/><text x="705" y="614"><tspan x="705" dy="-3.6">Every</tspan><tspan x="705" dy="3.6">Seasonal</tspan><tspan x="705" dy="3.6">Day</tspan></text></g>
<g id="n189" class="S"><circle cx="539" cy="616" r="9"/><text x="539" y="616">Beau</text></g>
<g id="n190" class="S"><circle cx="576" cy="620" r="9"/><text x="576" y="620"><tspan x="576" dy="-1.8">October</tspan><tspan x="576" dy="3.6">Gale</tspan></text></g>
<g id="n191" class="S"><circle cx="602" cy="623" r="9"/><text x="602" y="623"><tspan x="602" dy="-1.8">Fast Food</tspan><tspan x="602" dy="3.6">Nation</tspan></text></g>
<g id="n192" class="S"><circle cx="647" cy="621" r="9"/><text x="647" y="621">Chrysti...</text></g>
<g id="n193" class="S"><circle cx="516" cy="628" r="9"/><text x="516" y="628">...hemy</text></g>
<g id="n194" class="S"><circle cx="543" cy="632" r="9"/><text x="543" y="632"><tspan x="543" dy="-1.8">Tattooed</tspan><tspan x="543" dy="3.6">Boat</tspan></text></g>
<g id="n195" class="S"><circle cx="675" cy="634" r="9"/><text x="675" y="634"><tspan x="675" dy="-1.8">The</tspan><tspan x="675" dy="3.6">Louis...</tspan></text></g>
<g id="n196" class="S"><circle cx="581" cy="642" r="9"/><text x="581" y="642"><tspan x="581" dy="-1.8">Brian &amp;</tspan><tspan x="581" dy="3.6">Joyce</tspan></text></g>
<g id="n197" class="S"><circle cx="630" cy="648" r="9"/><text x="630" y="648">Tangled...</text></g>
<g id="n198" class="S"><circle cx="602" cy="660" r="9"/><text x="602" y="660"><tspan x="602" dy="-3.6">A Sunday</tspan><tspan x="602" dy="3.6">Kind of</tspan><tspan x="602" dy="3.6">Lo...</tspan></text></g>
<g id="n199" class="S"><circle cx="656" cy="658" r="9"/><text x="656" y="658"><tspan x="656" dy="-1.8">Lovely</tspan><tspan x="656" dy="3.6">Health</tspan></text></g>
<g id="n200" class="S"><circle cx="513" cy="656" r="9"/><text x="513" y="656"><tspan x="513" dy="-1.8">Hidden</tspan><tspan x="513" dy="3.6">...</tspan></text></g>
<g id="n201" class="S"><circle cx="540" cy="660" r="9"/><text x="540" y="660"><tspan x="540" dy="-1.8">Oh,</tspan><tspan x="540" dy="3.6">Nobody</tspan></text></g>
<g id="n202" class="S"><circle cx="564" cy="660" r="9"/><text x="564" y="660"><tspan x="564" dy="-3.6">Open</tspan><tspan x="564" dy="3.6">Cellar</tspan><tspan x="564" dy="3.6">Warm</tspan></text></g>
<g id="n203" class="S"><circle cx="627" cy="674" r="9"/><text x="627" y="672">The</text></g>
<g id="n204" class="S"><circle cx="322" cy="530" r="9"/><text x="322" y="530"><tspan x="322" dy="-3.6">The</tspan><tspan x="322" dy="3.6">Double</tspan><tspan x="322" dy="3.6">Bon...</tspan></text></g>
<g id="n205" class="S"><circle cx="357" cy="522" r="9"/><text x="357" y="522"><tspan x="357" dy="-1.8">A Bird in</tspan><tspan x="357" dy="3.6">Hand</tspan></text></g>
<g id="n206" class="S"><circle cx="385" cy="532" r="9"/><text x="385" y="532"><tspan x="385" dy="-3.6">The</tspan><tspan x="385" dy="3.6">Chateau</tspan><tspan x="385" dy="3.6">Inst...</tspan></text></g>
<g id="n207" class="S"><circle cx="423" cy="525" r="9"/><text x="423" y="525"><tspan x="423" dy="-3.6">Hope</tspan><tspan x="423" dy="3.6">Springs</tspan><tspan x="423" dy="3.6">Away</tspan></text></g>
<g id="n208" class="S"><circle cx="453" cy="522" r="9"/><text x="453" y="522"><tspan x="453" dy="-3.6">Hey</tspan><tspan x="453" dy="3.6">Bobby</tspan><tspan x="453" dy="3.6">Lu...</tspan></text></g>
<g id="n209" class="S"><circle cx="485" cy="512" r="9"/><text x="485" y="512">Hit</text></g>
<g id="n210" class="S"><circle cx="496" cy="523" r="9"/><text x="496" y="523"><tspan x="496" dy="-3.6">Baby</tspan><tspan x="496" dy="3.6">Christ</tspan><tspan x="496" dy="3.6">Sam</tspan></text></g>
<g id="n211" class="S"><circle cx="327" cy="563" r="9"/><text x="327" y="563"><tspan x="327" dy="-1.8">The High</tspan><tspan x="327" dy="3.6">M...</tspan></text></g>
<g id="n212" class="S"><circle cx="358" cy="553" r="9"/><text x="358" y="553"><tspan x="358" dy="-3.6">Wild</tspan><tspan x="358" dy="3.6">Soul of</tspan><tspan x="358" dy="3.6">Ro...</tspan></text></g>
<g id="n213" class="S"><circle cx="383" cy="572" r="9"/><text x="383" y="572">Ballsp...</text></g>
<g id="n214" class="S"><circle cx="409" cy="553" r="9"/><text x="409" y="553"><tspan x="409" dy="-1.8">Black Is</tspan><tspan x="409" dy="3.6">Wh...</tspan></text></g>
<g id="n215" class="S"><circle cx="442" cy="566" r="9"/><text x="442" y="566">One Mile</text></g>
<g id="n216" class="S"><circle cx="460" cy="553" r="9"/><text x="460" y="553"><tspan x="460" dy="-1.8">Oil and</tspan><tspan x="460" dy="3.6">Honey</tspan></text></g>
<g id="n217" class="S"><circle cx="480" cy="540" r="9"/><text x="480" y="540">Lavender</text></g>
<g id="n218" class="S"><circle cx="495" cy="559" r="9"/><text x="495" y="559"><tspan x="495" dy="-1.8">Waitings</tspan><tspan x="495" dy="3.6">N...</tspan></text></g>
<g id="n219" class="S"><circle cx="473" cy="579" r="9"/><text x="473" y="579"><tspan x="473" dy="-1.8">Cyder</tspan><tspan x="473" dy="3.6">Harvest</tspan></text></g>
<g id="n220" class="S"><circle cx="498" cy="576" r="9"/><text x="498" y="576"><tspan x="498" dy="-1.8">La Kill</tspan><tspan x="498" dy="3.6">Mama</tspan></text></g>
<g id="n221" class="S"><circle cx="500" cy="588" r="9"/><text x="500" y="588"><tspan x="500" dy="-1.8">Spring</tspan><tspan x="500" dy="3.6">of Le...</tspan></text></g>
<g id="n222" class="S"><circle cx="354" cy="587" r="9"/><text x="354" y="587"><tspan x="354" dy="-1.8">Ship of</tspan><tspan x="354" dy="3.6">Li...</tspan></text></g>
<g id="n223" class="S"><circle cx="412" cy="590" r="9"/><text x="412" y="590">Lynoville</text></g>
<g id="n224" class="S"><circle cx="438" cy="594" r="9"/><text x="438" y="594"><tspan x="438" dy="-3.6">The</tspan><tspan x="438" dy="3.6">Spider</tspan><tspan x="438" dy="3.6">Girl...</tspan></text></g>
<g id="n225" class="S"><circle cx="459" cy="597" r="9"/><text x="459" y="597"><tspan x="459" dy="-1.8">Lovely</tspan><tspan x="459" dy="3.6">L...</tspan></text></g>
<g id="n226" class="S"><circle cx="301" cy="599" r="9"/><text x="301" y="599"><tspan x="301" dy="-3.6">William</tspan><tspan x="301" dy="3.6">&amp;</tspan><tspan x="301" dy="3.6">Wal...</tspan></text></g>
<g id="n227" class="S"><circle cx="481" cy="616" r="9"/><text x="481" y="616">Bounce</text></g>
<g id="n228" class="S"><circle cx="503" cy="619" r="9"/><text x="503" y="619">Paratinto</text></g>
<g id="n229" class="S"><circle cx="426" cy="623" r="9"/><text x="426" y="623"><tspan x="426" dy="-3.6">In the</tspan><tspan x="426" dy="3.6">Mood for</tspan><tspan x="426" dy="3.6">Love</tspan></text></g>
<g id="n230" class="S"><circle cx="453" cy="625" r="9"/><text x="453" y="625"><tspan x="453" dy="-1.8">Venus in</tspan><tspan x="453" dy="3.6">Love</tspan></text></g>
<g id="n231" class="S"><circle cx="487" cy="648" r="9"/><text x="487" y="648">Clouded</text></g>
<g id="n232" class="S"><circle cx="459" cy="661" r="9"/><text x="459" y="661"><tspan x="459" dy="-1.8">The</tspan><tspan x="459" dy="3.6">Outer</tspan></text></g>
<g id="n233" class="S"><circle cx="493" cy="674" r="9"/><text x="493" y="672">The</text></g>
</g>
<g class="panel" id="panel"><rect x="752.5" y="533.5" width="40" height="150" fill="#fff" stroke="#d9dee4"/><text x="759" y="559">C</text><text x="759" y="603">C</text><text x="760" y="647">I</text></g>
</svg>
